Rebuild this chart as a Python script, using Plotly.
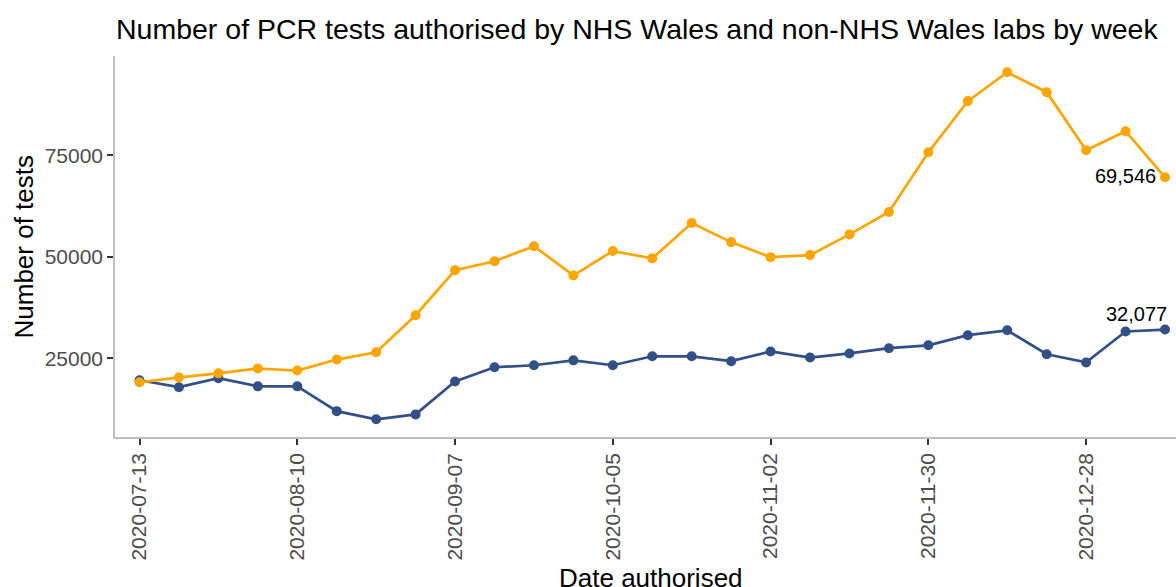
import plotly.graph_objects as go

weeks = ["2020-07-13", "2020-07-20", "2020-07-27", "2020-08-03", "2020-08-10", "2020-08-17",
         "2020-08-24", "2020-08-31", "2020-09-07", "2020-09-14", "2020-09-21", "2020-09-28",
         "2020-10-05", "2020-10-12", "2020-10-19", "2020-10-26", "2020-11-02", "2020-11-09",
         "2020-11-16", "2020-11-23", "2020-11-30", "2020-12-07", "2020-12-14", "2020-12-21",
         "2020-12-28", "2021-01-04", "2021-01-11"]

nhs_wales = [19600, 17900, 20100, 18100, 18100, 12000, 10000, 11200, 19300, 22800, 23300, 24500,
             23300, 25500, 25500, 24300, 26700, 25200, 26200, 27500, 28200, 30700, 31900, 26000,
             24000, 31600, 32077]

all_labs = [19100, 20300, 21300, 22500, 22000, 24700, 26500, 35600, 46700, 48900, 52600, 45400,
            51400, 49600, 58300, 53600, 49900, 50400, 55500, 61000, 75700, 88300, 95400, 90500,
            76200, 80900, 69546]

tick_dates = ["2020-07-13", "2020-08-10", "2020-09-07", "2020-10-05", "2020-11-02", "2020-11-30", "2020-12-28"]
y_ticks = [25000, 50000, 75000]

BLUE = "#325086"
ORANGE = "#FFA500"
FONT = "Liberation Sans, Arial, sans-serif"

W, H = 1176, 587
PL, PR, PT, PB = 115, 1176, 56, 437  # plot area in pixels

fig = go.Figure()
fig.add_trace(go.Scatter(x=weeks, y=nhs_wales, mode="lines+markers",
                         line=dict(color=BLUE, width=2.7), marker=dict(color=BLUE, size=10),
                         showlegend=False))
fig.add_trace(go.Scatter(x=weeks, y=all_labs, mode="lines+markers",
                         line=dict(color=ORANGE, width=2.7), marker=dict(color=ORANGE, size=10),
                         showlegend=False))

fig.add_annotation(x=weeks[-1], y=all_labs[-1], text=f"{all_labs[-1]:,}", showarrow=False,
                   xanchor="right", yanchor="middle", xshift=-7, yshift=1,
                   font=dict(family=FONT, size=20, color="black"))
fig.add_annotation(x=weeks[-1], y=nhs_wales[-1], text=f"{nhs_wales[-1]:,}", showarrow=False,
                   xanchor="right", yanchor="middle", xshift=4, yshift=16,
                   font=dict(family=FONT, size=20, color="black"))

# axis titles
fig.add_annotation(xref="paper", yref="paper", x=(651 - PL) / (PR - PL), y=(PB - 578) / (PB - PT),
                   text="Date authorised", showarrow=False, xanchor="center", yanchor="middle",
                   font=dict(family=FONT, size=26, color="black"))
fig.add_annotation(xref="paper", yref="paper", x=(23 - PL) / (PR - PL), y=0.5,
                   text="Number of tests", showarrow=False, textangle=-90,
                   xanchor="center", yanchor="middle",
                   font=dict(family=FONT, size=26, color="black"))

fig.update_layout(
    width=W, height=H,
    margin=dict(l=PL, r=W - PR, t=PT, b=H - PB),
    paper_bgcolor="white", plot_bgcolor="white",
    title=dict(text="Number of PCR tests authorised by NHS Wales and non-NHS Wales labs by week",
               x=116 / W, xanchor="left", xref="container",
               y=1 - 29 / H, yanchor="middle", yref="container",
               font=dict(family=FONT, size=28.5, color="black")),
    font=dict(family=FONT),
)
fig.update_xaxes(type="date", range=["2020-07-08 15:36", "2021-01-12 22:48"],
                 tickvals=tick_dates, ticktext=tick_dates, tickangle=-90,
                 showgrid=False, zeroline=False,
                 showline=True, linecolor="#BEBEBE", linewidth=1.5,
                 ticks="outside", ticklen=6, tickwidth=1.5, tickcolor="#333333",
                 tickfont=dict(family=FONT, size=21, color="#4D4D4D"))
fig.update_yaxes(range=[5640, 99400], tickvals=y_ticks, ticktext=[str(v) for v in y_ticks],
                 showgrid=False, zeroline=False,
                 showline=True, linecolor="#BEBEBE", linewidth=1.5,
                 ticks="outside", ticklen=6, tickwidth=1.5, tickcolor="#333333",
                 tickfont=dict(family=FONT, size=21, color="#4D4D4D"))

fig.write_html("out.html", config={"displayModeBar": False},
               post_script="document.body.style.margin='0';document.body.style.overflow='hidden';")
